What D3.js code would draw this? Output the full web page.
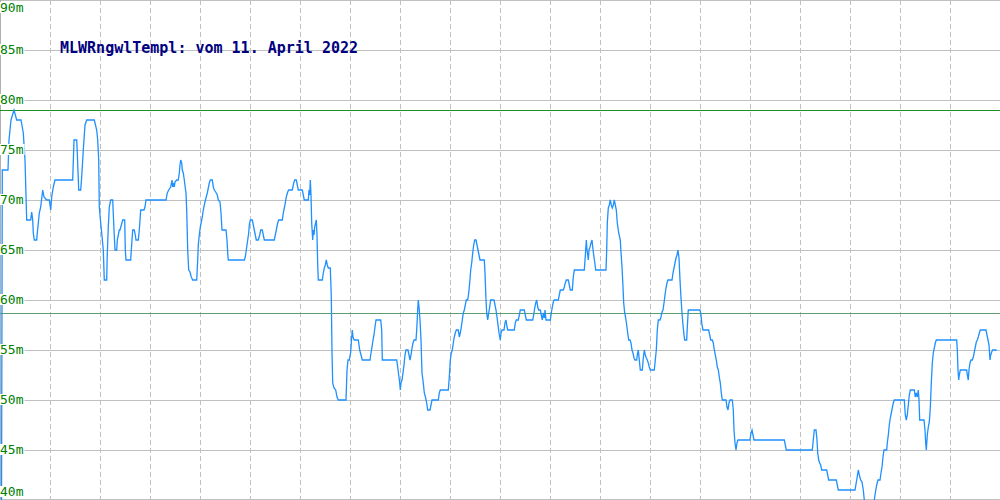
<!DOCTYPE html>
<html>
<head>
<meta charset="utf-8">
<script src="https://cdn.jsdelivr.net/npm/d3@7"></script>
<style>
  html, body { margin: 0; padding: 0; background: #fff; }
  svg { display: block; }
</style>
</head>
<body>
<div id="chart"></div>
<script>
// ---- data ----
const title = "MLWRngwlTempl: vom 11. April 2022";
const yTicks = [40, 45, 50, 55, 60, 65, 70, 75, 80, 85, 90];
const yTickLabels = ["40m", "45m", "50m", "55m", "60m", "65m", "70m", "75m", "80m", "85m", "90m"];
const xGrid = [50, 100, 150, 200, 250, 300, 350, 400, 450, 500, 550, 600, 650, 700, 750, 800, 850, 900, 950];
const upperRef = 79;     // green reference line
const lowerRef = 58.7;   // lower reference line

// sample position (time index 0..1000)
const t = [
  1.5, 2.3, 8, 9, 11, 14, 16.7, 21, 23.3, 25, 26.7, 30.7, 31.7, 32.7, 33.3, 34.3, 36.7, 37.3, 39.3, 40.7,
  42.7, 44, 46.7, 49.3, 50.7, 51.7, 53.3, 55, 72.7, 74, 76.7, 77.3, 78.7, 80.7, 81.7, 83.3, 85, 86.7, 94.3, 96.7,
  97.7, 98.7, 99.3, 100.7, 101.7, 103.3, 104.3, 106.7, 107.3, 108.3, 109.3, 110.7, 112.7, 114, 115, 116.7, 117.3, 119.3, 120, 122.7,
  124.7, 125.3, 126, 130.7, 131.3, 132, 132.7, 134.3, 135.3, 136, 138.3, 139.3, 140, 140.7, 144, 145, 146, 166, 167.3, 168.7,
  170.7, 172, 172.7, 173.3, 174.3, 175, 176.7, 178.3, 179.3, 180, 180.7, 181.7, 182.3, 183.3, 184.3, 185.3, 186, 186.7, 187.7, 188.7,
  190, 191.3, 192.7, 196.7, 197.7, 198.3, 199.3, 200.3, 201.3, 202.3, 203.3, 204.7, 206, 207.3, 208.3, 209.3, 210.3, 212.3, 213.3, 214.3,
  215.7, 217.3, 218.3, 220, 221, 222, 226, 227, 227.7, 228.3, 244.3, 245.3, 246.7, 247.7, 248.7, 249.3, 250.3, 252.3, 253.3, 254.3,
  255.3, 256.3, 258.3, 259.7, 260.7, 262.3, 263.3, 264.3, 274.3, 275.7, 276.7, 277.7, 278.7, 282.3, 283.3, 284.3, 285.3, 286.3, 287.7, 288.7,
  292.3, 293.7, 294.7, 296.3, 297.3, 298.3, 302.3, 303.3, 304.3, 308.3, 309, 309.7, 310.3, 311, 311.7, 312.7, 313.3, 314, 314.7, 316.3,
  317, 317.7, 318.3, 322.3, 323.3, 324.3, 325.3, 326.3, 327.3, 328.3, 330.3, 331.3, 332, 332.7, 334, 335.7, 337, 338.3, 346, 347,
  348, 349.3, 350.7, 351.7, 352.3, 353, 354.3, 358.3, 359.7, 361, 362.3, 370, 371, 372, 373, 374, 375, 376, 380.7, 381.7,
  382.3, 396.7, 397.7, 398.7, 399.7, 400.3, 401, 402, 403, 404, 405, 406, 408, 409, 410, 411, 412, 413, 414, 416,
  416.7, 417.7, 418.3, 419.3, 420, 421, 422, 423.3, 424.3, 425.7, 426.7, 427.7, 430, 431, 432, 438.3, 439.3, 440.3, 448.3, 449.3,
  450.3, 451.3, 452.3, 453.3, 454.3, 455.3, 456.3, 458.3, 459.3, 460.3, 461.3, 462.3, 463.3, 464.3, 465.3, 466.3, 467.7, 468.7, 469.7, 470.7,
  471.7, 472.7, 473.7, 474.7, 476, 477, 478, 479, 480, 484.3, 485, 486, 486.7, 487.7, 488.7, 489.7, 490.7, 494, 495, 496,
  497, 498, 499, 499.7, 500.3, 501, 502, 504, 505, 506, 506.7, 507.7, 514.3, 515.3, 516.3, 518.3, 519.3, 520.3, 524.3, 525.3,
  526.3, 532.7, 533.7, 534.7, 535.7, 536.7, 537.7, 538.7, 540.3, 541.3, 542.3, 543.3, 544.3, 545, 546, 550.3, 551.3, 552.3, 553.3, 554.3,
  558.3, 559.3, 560.3, 563.3, 564.3, 565.3, 566.3, 568.3, 569.3, 570.3, 572.3, 573.3, 574.3, 584.3, 585, 585.7, 586.3, 587, 587.7, 588.3,
  589, 590, 591, 592, 592.7, 593.7, 594.7, 595.7, 606, 606.7, 607.3, 608.3, 609.3, 610.3, 611.3, 612.3, 613.3, 614.3, 615.3, 616.3,
  617.3, 618.7, 620.3, 621, 622, 623, 623.7, 624.7, 625.7, 626.7, 627.7, 628.7, 630, 631, 632, 633, 634, 635, 636.7, 637.3,
  638.3, 639.3, 640.3, 642.3, 643.3, 644.3, 645.3, 646.3, 647.3, 648.3, 649.3, 650.3, 654.3, 655.3, 656.3, 657.3, 658.3, 660, 661, 662,
  663, 664, 665, 666, 667, 668, 672, 673, 674, 675, 676, 677, 678, 679, 680, 681, 682, 683, 684, 684.7,
  686.7, 687.3, 688.3, 700, 701, 702, 703, 708.7, 709.7, 710.7, 712.3, 713.3, 714.3, 715.3, 716.3, 717.3, 718.3, 719.3, 720.3, 721.3,
  722.3, 726, 727, 728, 729, 730, 732.3, 733.3, 734, 735, 736, 737, 738, 750, 751, 752, 753, 754, 784.3, 785.3,
  786.3, 812.3, 813.3, 814.3, 816, 817, 817.7, 818.7, 819.7, 820.7, 821.7, 826.7, 827.7, 828.7, 836.3, 837.3, 838.3, 855, 856.7, 858.3,
  859.3, 860.7, 862, 863.3, 864.3, 869, 874.3, 875.3, 876.7, 878, 880, 881, 882, 883, 884, 886.7, 887.3, 888.3, 889.3, 890.3,
  891.3, 892.3, 893.3, 894.3, 904.3, 905.3, 906.3, 907.3, 908.3, 909.3, 910.3, 914.3, 915.3, 916.3, 917.3, 918.3, 919, 919.7, 924, 925,
  925.7, 926.3, 927.3, 928.3, 929.3, 930.3, 931.3, 932.3, 933.3, 934.3, 935.3, 936.3, 956.7, 957.3, 958, 958.7, 959.3, 960.3, 966.7, 967.3,
  968.3, 969, 970, 971, 972.3, 973.3, 974.3, 975.3, 976.3, 977.3, 978.3, 979.3, 980.3, 986, 987, 988, 989, 990, 990.7, 991.7,
  992.7, 996.7
];

// water level (m)
const level = [
  39, 73, 73, 76, 78, 79, 78, 78, 76.7, 74, 68, 68, 68.8, 68, 66.7, 66, 66, 66.7, 68.7, 69.3,
  71, 70.3, 70, 70, 69, 70.3, 71.3, 72, 72, 76, 76, 74.7, 71, 71, 72.3, 75, 77.5, 78, 78, 77,
  76, 74, 69.3, 67.7, 66.7, 65, 62, 62, 64.7, 67.3, 69.3, 70, 70, 67, 65, 65, 66, 67, 67, 68,
  68, 65, 64, 64, 65, 66, 67, 67, 66.5, 66, 66, 67, 68, 69, 69, 69.3, 70, 70, 70.7, 71,
  71.3, 72, 71.3, 71.7, 71.3, 71.8, 72, 72, 72.7, 73.5, 74, 73.7, 73, 72.7, 72, 71.2, 70.7, 69, 65, 63,
  62.8, 62.3, 62, 62, 64, 65.5, 66.5, 67.3, 67.8, 68.3, 69, 69.7, 70.2, 70.7, 71.2, 71.7, 72, 72, 71.3, 71,
  70.8, 70.5, 70, 69.8, 68.7, 67, 67, 66, 64.7, 64, 64, 64.3, 65.3, 66, 66.7, 67.5, 68, 68, 67.5, 67,
  66.5, 66, 66, 66.5, 67, 67, 66.5, 66, 66, 66.7, 67.2, 67.7, 68, 68, 68.7, 69.2, 69.7, 70.3, 70.8, 71,
  71, 71.7, 72, 72, 71.5, 71, 71, 70.5, 70, 70, 71, 70.5, 72, 70.5, 67.7, 66, 67, 66.5, 67.3, 68,
  66.5, 63.5, 62, 62, 62.7, 63.2, 63.5, 64, 63.5, 63.2, 63.2, 60.3, 54.8, 51.7, 51.2, 51, 50.3, 50, 50, 53,
  54, 54, 54.8, 56.3, 57, 56.3, 56, 56, 55, 54.5, 54, 54, 54.7, 55.3, 56, 56.5, 57.3, 58, 58, 57,
  54, 54, 53.3, 52.5, 51.7, 51, 51.7, 52, 52.7, 53.5, 54.5, 55, 55, 54.5, 54, 54.5, 55.2, 55.7, 56, 56,
  57, 59, 60, 59, 58, 56, 52.7, 51.7, 50.7, 50.2, 49.7, 49, 49, 49.5, 50, 50, 50.7, 51, 51, 52.3,
  54, 54.7, 55, 55.7, 56.3, 56.7, 57, 57, 56.3, 56.7, 57.3, 58, 58.7, 59, 59.5, 60, 60, 60.7, 61.7, 63,
  63.7, 64.7, 65.5, 66, 66, 65.5, 65, 64.5, 64, 64, 62.7, 60, 58.7, 58, 58.7, 59.3, 60, 60, 59.5, 59,
  58.3, 57.5, 56.7, 56.3, 56, 56.7, 57, 57, 57.7, 58, 57.5, 57, 57, 57.7, 58, 58, 58.5, 59, 59, 58.5,
  58, 58, 58.5, 59.2, 59.7, 60, 59.3, 59, 59, 58.5, 58, 58.7, 58.2, 59, 58, 58, 58.7, 59.3, 59.8, 60,
  60, 60.5, 61, 61, 61.3, 61.7, 62, 62, 61.5, 61, 61, 62.3, 63, 63, 64, 65, 66, 65, 64.5, 64,
  65, 65.3, 65.7, 66, 65.3, 64.5, 63.8, 63, 63, 65, 67.7, 69.2, 69.5, 70, 69.5, 69.2, 69.5, 70, 69.5, 69,
  67.7, 66.7, 66, 64.8, 63.3, 61.3, 59.7, 58.7, 58.2, 57.5, 56.7, 56, 56, 55.7, 55, 54.7, 54.2, 54, 54, 54.5,
  55, 54, 53, 53, 54.2, 55, 54.5, 54.2, 54, 53.7, 53.3, 53, 53, 54, 55, 57, 58, 58, 58.3, 58.8,
  59, 59.7, 60.5, 61.2, 61.7, 62, 62, 62.7, 63.2, 63.7, 64.2, 64.5, 65, 64.2, 62, 60.2, 58.7, 57.5, 56.5, 56,
  56, 57.3, 59, 59, 58.5, 57.5, 57, 57, 56.5, 56, 56, 55.7, 55, 54.5, 54, 53.3, 53, 52.3, 51.7, 50.7,
  50, 50, 49.3, 49, 49.7, 50, 50, 49, 47, 45.7, 45, 45.7, 46, 46, 46.7, 47, 46.5, 46, 46, 45.5,
  45, 45, 46, 47, 47, 46, 44.7, 44, 43.7, 43.5, 43, 43, 42.5, 42, 42, 41.5, 41, 41, 42, 43,
  42.5, 42, 41.8, 41, 40, 38.5, 40, 40.7, 41.5, 42, 42, 42.7, 43.3, 44.3, 45, 45, 45.7, 46.5, 47.5, 48.2,
  48.7, 49.2, 49.7, 50, 50, 48.5, 48, 48.5, 49.5, 50.5, 51, 51, 50.3, 50.7, 50.3, 51, 50, 48, 48, 47,
  45.7, 45, 46.5, 47.3, 47.8, 49.2, 51.7, 53.7, 54.7, 55.2, 55.7, 56, 56, 55, 53, 52, 52.5, 53, 53, 52.5,
  52, 53, 53.7, 54, 54, 54.3, 54.8, 55.3, 55.8, 56, 56.3, 56.7, 57, 57, 56.5, 56, 55.5, 54, 54.5, 54.8,
  55, 55
];

// ---- chart ----
const W = 1000, H = 500;
const x = d3.scaleLinear().domain([0, 1000]).range([0, W]);
const y = d3.scaleLinear().domain([40, 90]).range([H, 0]);

const svg = d3.select("#chart").append("svg")
  .attr("width", W).attr("height", H)
  .style("font-family", "'DejaVu Sans Mono', monospace");

svg.append("rect").attr("width", W).attr("height", H).attr("fill", "#fff");

// horizontal gridlines
svg.append("g").selectAll("line").data(yTicks).join("line")
  .attr("x1", 0).attr("x2", W)
  .attr("y1", d => Math.min(H - 0.5, Math.round(y(d)) + 0.5))
  .attr("y2", d => Math.min(H - 0.5, Math.round(y(d)) + 0.5))
  .attr("stroke", "#c0c0c0").attr("stroke-width", 1)
  .attr("shape-rendering", "crispEdges");

// vertical dashed gridlines
svg.append("g").selectAll("line").data(xGrid).join("line")
  .attr("x1", d => Math.round(x(d)) + 0.5).attr("x2", d => Math.round(x(d)) + 0.5)
  .attr("y1", 0).attr("y2", H)
  .attr("stroke", "#c0c0c0").attr("stroke-width", 1)
  .attr("stroke-dasharray", "5,3")
  .attr("shape-rendering", "crispEdges");

// left border
svg.append("line").attr("x1", 0.5).attr("x2", 0.5).attr("y1", 0).attr("y2", H)
  .attr("stroke", "#b0b0b0").attr("shape-rendering", "crispEdges");

// reference lines
svg.append("line").attr("x1", 0).attr("x2", W)
  .attr("y1", Math.round(y(upperRef)) + 0.5).attr("y2", Math.round(y(upperRef)) + 0.5)
  .attr("stroke", "#1f8f1f").attr("stroke-width", 1).attr("shape-rendering", "crispEdges");
svg.append("line").attr("x1", 0).attr("x2", W)
  .attr("y1", Math.round(y(lowerRef)) + 0.5).attr("y2", Math.round(y(lowerRef)) + 0.5)
  .attr("stroke", "#5e9e6e").attr("stroke-width", 1).attr("shape-rendering", "crispEdges");

// data line
svg.append("clipPath").attr("id", "plotclip")
  .append("rect").attr("x", 0).attr("y", 0).attr("width", W).attr("height", H);

const pts = t.map((d, i) => [d, level[i]]);
const line = d3.line().x(d => x(d[0])).y(d => y(d[1]));
svg.append("path").datum(pts)
  .attr("clip-path", "url(#plotclip)")
  .attr("d", line)
  .attr("fill", "none")
  .attr("stroke", "#1e90ff")
  .attr("stroke-width", 1.3)
  .attr("stroke-linejoin", "miter");

// y tick labels
const lab = svg.append("g");
yTicks.forEach((v, i) => {
  let base;
  if (v === 90) base = 12;
  else if (v === 40) base = 496;
  else base = Math.round(y(v)) + 4;
  const txt = lab.append("text")
    .attr("x", 0).attr("y", base)
    .attr("fill", "#008000")
    .attr("font-size", 13)
    .text(yTickLabels[i]);
  const bb = txt.node().getBBox();
  lab.insert("rect", "text")
    .attr("x", bb.x).attr("y", bb.y + 2).attr("width", bb.width + 1).attr("height", bb.height - 4)
    .attr("fill", "#fff");
});

// title
svg.append("text")
  .attr("x", 60).attr("y", 53)
  .attr("fill", "#000080")
  .attr("font-size", 15)
  .attr("font-weight", "bold")
  .text(title);
</script>
</body>
</html>
